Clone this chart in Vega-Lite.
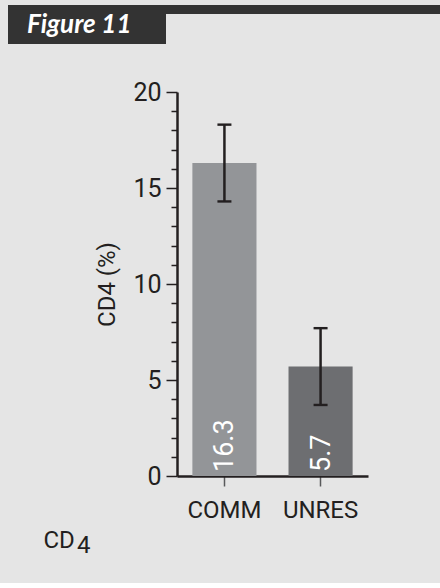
{
  "$schema": "https://vega.github.io/schema/vega-lite/v6.json",
  "background": "#e5e5e5",
  "padding": {"left": 8, "top": 5, "right": 0, "bottom": 25},
  "spacing": 36,
  "config": {
    "font": "Roboto",
    "view": {"stroke": null}
  },
  "vconcat": [
    {
      "spacing": 0,
      "hconcat": [
        {
          "width": 158,
          "height": 39,
          "view": {"fill": "#333333", "stroke": null},
          "data": {"values": [{"label": "Figure 11"}]},
          "mark": {
            "type": "text",
            "align": "left",
            "baseline": "alphabetic",
            "dx": -60,
            "dy": 8.5,
            "font": "Lato",
            "fontSize": 26,
            "fontWeight": "bold",
            "fontStyle": "italic",
            "color": "#ffffff"
          },
          "encoding": {"text": {"field": "label"}}
        },
        {
          "width": 274,
          "height": 9,
          "view": {"fill": "#333333", "stroke": null},
          "data": {"values": []},
          "mark": {"type": "text"},
          "encoding": {}
        }
      ]
    },
    {
      "width": 360,
      "height": 384,
      "title": {
        "text": "4",
        "orient": "bottom",
        "anchor": "start",
        "frame": "group",
        "dx": 69,
        "dy": 1,
        "offset": 0,
        "baseline": "alphabetic",
        "font": "Roboto",
        "fontSize": 24,
        "fontWeight": "normal",
        "color": "#231f20"
      },
      "data": {
        "values": [
          {"group": "COMM", "pct": 16.3, "low": 14.3, "high": 18.3},
          {"group": "UNRES", "pct": 5.7, "low": 3.7, "high": 7.7}
        ]
      },
      "encoding": {
        "x": {
          "field": "group",
          "type": "nominal",
          "sort": ["COMM", "UNRES"],
          "scale": {"range": [169, 360], "paddingInner": 0.3333, "paddingOuter": 0.16},
          "axis": {
            "title": "CD",
            "titleX": 35,
            "titleY": 71,
            "titleAlign": "left",
            "titleBaseline": "alphabetic",
            "titleAnchor": null,
            "titleFont": "Roboto",
            "titleFontSize": 24,
            "titleFontWeight": "normal",
            "titleColor": "#231f20",
            "labelAngle": 0,
            "labelFont": "Roboto",
            "labelFontSize": 24,
            "labelColor": "#231f20",
            "labelPadding": 12,
            "domainColor": "#231f20",
            "domainWidth": 2.5,
            "tickColor": "#58595b",
            "tickSize": 10,
            "tickWidth": 1.5
          }
        }
      },
      "layer": [
        {
          "mark": {"type": "bar"},
          "encoding": {
            "y": {
              "field": "pct",
              "type": "quantitative",
              "scale": {"domain": [0, 20], "nice": false},
              "axis": {
                "values": [0, 1, 2, 3, 4, 5, 6, 7, 8, 9, 10, 11, 12, 13, 14, 15, 16, 17, 18, 19, 20],
                "tickCount": 30,
                "format": "d",
                "labelExpr": "datum.value % 5 === 0 ? datum.label : ''",
                "labelOverlap": false,
                "offset": -169,
                "grid": false,
                "title": "CD4 (%)",
                "titleFont": "Roboto",
                "titleFontSize": 24,
                "titleFontWeight": "normal",
                "titleColor": "#231f20",
                "titlePadding": 13,
                "labelFont": "Roboto",
                "labelFontSize": 25,
                "labelColor": "#231f20",
                "labelPadding": 5,
                "domainColor": "#231f20",
                "domainWidth": 2.5,
                "tickColor": "#231f20",
                "tickWidth": 1.5,
                "tickSize": {"condition": {"test": "datum.value % 5 === 0", "value": 11}, "value": 6}
              }
            },
            "color": {
              "field": "group",
              "type": "nominal",
              "scale": {"domain": ["COMM", "UNRES"], "range": ["#939598", "#6d6e71"]},
              "legend": null
            }
          }
        },
        {
          "mark": {"type": "rule", "color": "#231f20", "strokeWidth": 2.5},
          "encoding": {
            "y": {"field": "low", "type": "quantitative"},
            "y2": {"field": "high"}
          }
        },
        {
          "mark": {"type": "tick", "color": "#231f20", "size": 14, "thickness": 2.4, "opacity": 1},
          "encoding": {"y": {"field": "low", "type": "quantitative"}}
        },
        {
          "mark": {"type": "tick", "color": "#231f20", "size": 14, "thickness": 2.4, "opacity": 1},
          "encoding": {"y": {"field": "high", "type": "quantitative"}}
        },
        {
          "mark": {
            "type": "text",
            "angle": 270,
            "align": "left",
            "baseline": "middle",
            "dx": 4,
            "dy": 1,
            "font": "Roboto",
            "fontSize": 27,
            "color": "#ffffff"
          },
          "encoding": {
            "y": {"datum": 0, "type": "quantitative"},
            "text": {"field": "pct", "type": "quantitative", "format": ".1f"}
          }
        }
      ]
    }
  ]
}
